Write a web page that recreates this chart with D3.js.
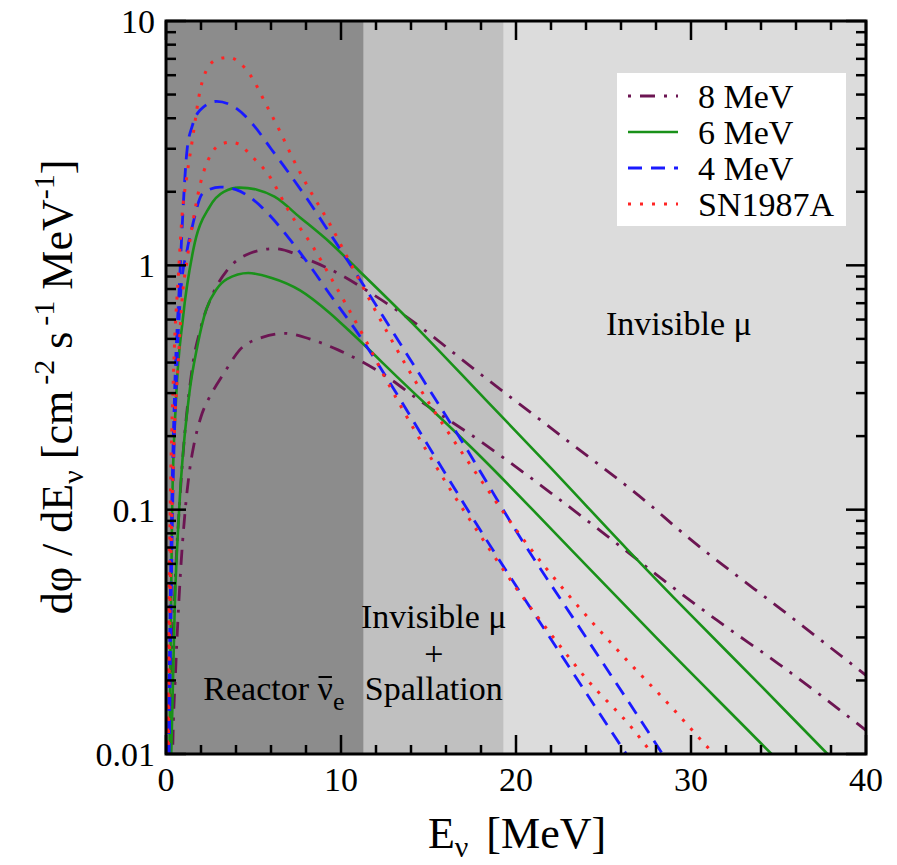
<!DOCTYPE html>
<html>
<head>
<meta charset="utf-8">
<script src="https://cdn.jsdelivr.net/npm/d3@7/dist/d3.min.js"></script>
<style>
  body { margin: 0; background: #fff; }
  svg { display: block; }
  text { font-family: "Liberation Serif", "Times New Roman", serif; fill: #000; }
</style>
</head>
<body>
<svg id="chart" width="897" height="865"></svg>
<script>
// energies [MeV] and fluxes [cm^-2 s^-1 MeV^-1]
const e8hi = [0.15, 0.25, 0.5, 0.8, 1.5, 2.0, 2.7, 3.5, 4.8, 6.2, 8.2, 9.8, 11.7, 13.4, 18.3, 23, 27.7, 29.2, 35.8, 40];
const f8hi = [0.002, 0.01, 0.045, 0.112, 0.38, 0.56, 0.77, 0.955, 1.12, 1.17, 1.05, 0.93, 0.77, 0.64, 0.344, 0.19, 0.104, 0.084, 0.036, 0.021];
const e8lo = [0.25, 0.38, 0.55, 0.8, 1.1, 1.35, 1.6, 2.0, 2.5, 2.9, 3.5, 4.2, 5.5, 6.8, 8.2, 9.8, 12.7, 14.3, 17.9, 22, 26.1, 27.7, 31.5, 35, 40];
const f8lo = [0.002, 0.01, 0.022, 0.051, 0.1, 0.145, 0.185, 0.24, 0.29, 0.325, 0.38, 0.45, 0.507, 0.527, 0.50, 0.452, 0.347, 0.286, 0.192, 0.117, 0.0695, 0.0565, 0.0352, 0.0234, 0.0125];

const e6hi = [0.1, 0.2, 0.35, 0.57, 0.97, 1.55, 2.5, 3.3, 4.2, 5.2, 6.2, 7.66, 9.37, 11, 14, 18.3, 22, 26.3, 30, 34, 37.8, 40];
const f6hi = [0.002, 0.01, 0.1, 0.28, 0.61, 1.15, 1.74, 2.0, 2.08, 2.04, 1.91, 1.57, 1.24, 0.955, 0.587, 0.28, 0.148, 0.0695, 0.037, 0.019, 0.01, 0.0069];
const e6lo = [0.15, 0.3, 0.5, 0.75, 1.3, 1.8, 2.3, 2.9, 3.5, 4.7, 6.0, 7.66, 9.37, 10.5, 13.4, 17.9, 23.2, 28, 34.6, 36];
const f6lo = [0.002, 0.01, 0.04, 0.1, 0.286, 0.47, 0.66, 0.8, 0.88, 0.93, 0.89, 0.79, 0.637, 0.537, 0.339, 0.167, 0.068, 0.030, 0.010, 0.0079];

const e4hi = [0.1, 0.3, 0.5, 0.75, 1.2, 1.5, 1.94, 2.9, 4.0, 5.0, 6.0, 7.0, 8.0, 9.37, 11.1, 12.8, 14.7, 17, 20, 24, 28, 29];
const f4hi = [0.0063, 0.079, 0.316, 0.79, 2.95, 3.72, 4.31, 4.69, 4.4, 3.75, 3.0, 2.4, 1.9, 1.35, 0.87, 0.557, 0.339, 0.186, 0.082, 0.030, 0.011, 0.0085];
const e4lo = [0.15, 0.35, 0.6, 0.85, 1.2, 1.49, 2.1, 3.1, 4.0, 4.8, 6.0, 7.1, 8.2, 9.37, 11.1, 12.8, 15, 18.7, 22, 26.3, 27.5];
const f4lo = [0.0063, 0.079, 0.355, 0.79, 1.15, 1.43, 1.97, 2.09, 2.04, 1.90, 1.58, 1.27, 1.0, 0.76, 0.51, 0.33, 0.182, 0.068, 0.0295, 0.010, 0.0074];

const eSNhi = [0.05, 0.2, 0.45, 0.7, 0.91, 1.2, 1.5, 1.95, 2.4, 3.0, 3.6, 4.2, 4.8, 5.8, 6.5, 7.3, 8.2, 9.4, 10.3, 11.7, 13.0, 14.3, 16, 18, 20.4, 23, 26, 28.9, 31.3, 33];
const fSNhi = [0.005, 0.063, 0.40, 0.89, 1.57, 2.34, 3.24, 5.2, 6.46, 7.0, 7.1, 6.76, 6.03, 4.44, 3.55, 2.69, 2.04, 1.46, 1.10, 0.708, 0.479, 0.331, 0.214, 0.132, 0.0759, 0.0447, 0.0257, 0.0155, 0.010, 0.0074];
const eSNlo = [0.05, 0.2, 0.45, 0.7, 0.91, 1.2, 1.5, 1.95, 2.4, 3.0, 3.66, 4.2, 4.8, 5.8, 7.1, 8.4, 9.5, 10.5, 11.5, 12.4, 14, 16, 18, 20, 22, 24, 26.7, 27.8, 30];
const fSNlo = [0.0025, 0.028, 0.178, 0.40, 0.71, 1.05, 1.45, 2.14, 2.69, 3.09, 3.19, 3.13, 2.84, 2.38, 1.63, 1.19, 0.87, 0.65, 0.48, 0.36, 0.224, 0.129, 0.0776, 0.0479, 0.0309, 0.0204, 0.0126, 0.010, 0.0066];

const legendNames = ['8 MeV', '6 MeV', '4 MeV', 'SN1987A'];
const regionEdges = [0, 11.3, 19.3, 40];
const xMajor = [0, 10, 20, 30, 40];
const yMajor = [0.01, 0.1, 1, 10];

// layout
const L = 166, R = 866, T = 21, B = 754;
const svg = d3.select('#chart');

const x = d3.scaleLinear().domain([0, 40]).range([L, R]);
const y = d3.scaleLog().domain([0.01, 10]).range([B, T]);

const zip = (e, f) => e.map((v, i) => [v, f[i]]);

const styles = [
    { color: '#6c1552', dash: '15,9,3,9', width: 2.8 },
    { color: '#199119', dash: null, width: 2.6 },
    { color: '#1a1aff', dash: '14,9', width: 2.8 },
    { color: '#ff2424', dash: '3,9', width: 3 }
];
const curves = [
    [zip(e8hi, f8hi), zip(e8lo, f8lo)],
    [zip(e6hi, f6hi), zip(e6lo, f6lo)],
    [zip(e4hi, f4hi), zip(e4lo, f4lo)],
    [zip(eSNhi, fSNhi), zip(eSNlo, fSNlo)]
];

// shaded regions
const regionFills = ['#8c8c8c', '#c0c0c0', '#dcdcdc'];
svg.append('g').selectAll('rect')
    .data(d3.range(regionEdges.length - 1))
    .join('rect')
    .attr('x', i => x(regionEdges[i]))
    .attr('width', i => x(regionEdges[i + 1]) - x(regionEdges[i]))
    .attr('y', T)
    .attr('height', B - T)
    .attr('fill', i => regionFills[i]);

// region labels
const lab = svg.append('g').attr('font-size', 34);
const reactor = lab.append('text')
    .attr('x', (x(regionEdges[0]) + x(regionEdges[1])) / 2 + 9)
    .attr('y', 700)
    .attr('text-anchor', 'middle');
reactor.append('tspan').text('Reactor ν');
reactor.append('tspan').attr('font-size', 26).attr('dy', 10).text('e');
const midX = (x(regionEdges[1]) + x(regionEdges[2])) / 2;
lab.append('text').attr('x', midX).attr('y', 628).attr('text-anchor', 'middle').text('Invisible μ');
lab.append('text').attr('x', midX).attr('y', 665).attr('text-anchor', 'middle').text('+');
lab.append('text').attr('x', midX).attr('y', 700).attr('text-anchor', 'middle').text('Spallation');
lab.append('text').attr('x', (x(regionEdges[2]) + x(regionEdges[3])) / 2 - 6).attr('y', 335)
    .attr('text-anchor', 'middle').text('Invisible μ');
// bar over the nu
const nuBox = reactor.node().getExtentOfChar(8);
lab.append('line')
    .attr('x1', nuBox.x + 1).attr('x2', nuBox.x + nuBox.width - 1)
    .attr('y1', 677).attr('y2', 677)
    .attr('stroke', '#000').attr('stroke-width', 2);

// curves
svg.append('clipPath').attr('id', 'plotClip')
    .append('rect').attr('x', L).attr('y', T).attr('width', R - L).attr('height', B - T);

const line = d3.line()
    .x(d => x(d[0]))
    .y(d => y(d[1]))
    .curve(d3.curveMonotoneX);

const plot = svg.append('g').attr('clip-path', 'url(#plotClip)');
curves.forEach((pair, k) => {
    pair.forEach(pts => {
        plot.append('path')
            .datum(pts)
            .attr('d', line)
            .attr('fill', 'none')
            .attr('stroke', styles[k].color)
            .attr('stroke-width', styles[k].width)
            .attr('stroke-dasharray', styles[k].dash);
    });
});

// legend
const leg = svg.append('g');
leg.append('rect').attr('x', 617).attr('y', 73).attr('width', 229).attr('height', 153).attr('fill', '#fff');
legendNames.forEach((name, i) => {
    const yy = 96 + i * 36;
    leg.append('line')
        .attr('x1', 628).attr('x2', 678).attr('y1', yy).attr('y2', yy)
        .attr('stroke', styles[i].color)
        .attr('stroke-width', styles[i].width)
        .attr('stroke-dasharray', styles[i].dash)
        .attr('stroke-dashoffset', i == 0 ? 24 : 0);
    leg.append('text').attr('x', 698).attr('y', yy + 12).attr('font-size', 34).text(name);
});

// frame and ticks (inward on all sides)
const ax = svg.append('g').attr('stroke', '#000').attr('stroke-width', 2.5);
const xMinor = d3.range(0, 41, 2).filter(v => xMajor.indexOf(v) < 0);
const yMinor = [];
[0.01, 0.1, 1].forEach(d => d3.range(2, 10).forEach(m => yMinor.push(d * m)));

const tickX = (vals, len) => {
    vals.forEach(v => {
        ax.append('line').attr('x1', x(v)).attr('x2', x(v)).attr('y1', B).attr('y2', B - len);
        ax.append('line').attr('x1', x(v)).attr('x2', x(v)).attr('y1', T).attr('y2', T + len);
    });
};
const tickY = (vals, len) => {
    vals.forEach(v => {
        ax.append('line').attr('y1', y(v)).attr('y2', y(v)).attr('x1', L).attr('x2', L + len);
        ax.append('line').attr('y1', y(v)).attr('y2', y(v)).attr('x1', R).attr('x2', R - len);
    });
};
tickX(xMajor, 19);
tickX(xMinor, 9);
tickY(yMajor, 20);
tickY(yMinor, 10);
ax.append('rect').attr('x', L).attr('y', T).attr('width', R - L).attr('height', B - T)
    .attr('fill', 'none').attr('stroke-width', 3);

// tick labels
svg.append('g').attr('font-size', 34).attr('text-anchor', 'middle')
    .selectAll('text').data(xMajor).join('text')
    .attr('x', d => x(d)).attr('y', 791).text(d => d);
svg.append('g').attr('font-size', 34).attr('text-anchor', 'end')
    .selectAll('text').data(yMajor).join('text')
    .attr('x', 155).attr('y', d => y(d) + 12).text(d => d);

// axis titles
const xt = svg.append('text').attr('x', 517).attr('y', 848).attr('text-anchor', 'middle').attr('font-size', 44);
xt.append('tspan').text('E');
xt.append('tspan').attr('font-size', 30).attr('dy', 9).text('ν');
xt.append('tspan').attr('dy', -9).attr('dx', 18).text('[MeV]');

const yt = svg.append('text').attr('transform', 'rotate(-90)')
    .attr('x', -387).attr('y', 72).attr('text-anchor', 'middle').attr('font-size', 44);
yt.append('tspan').text('dφ / dE');
yt.append('tspan').attr('font-size', 30).attr('dy', 11).text('ν');
yt.append('tspan').attr('dy', -11).text(' [cm');
yt.append('tspan').attr('font-size', 30).attr('dy', -18).attr('dx', 6).text('-2');
yt.append('tspan').attr('dy', 18).text(' s');
yt.append('tspan').attr('font-size', 30).attr('dy', -18).attr('dx', 6).text('-1');
yt.append('tspan').attr('dy', 18).text(' MeV');
yt.append('tspan').attr('font-size', 30).attr('dy', -18).text('-1');
yt.append('tspan').attr('dy', 18).text(']');
</script>
</body>
</html>
